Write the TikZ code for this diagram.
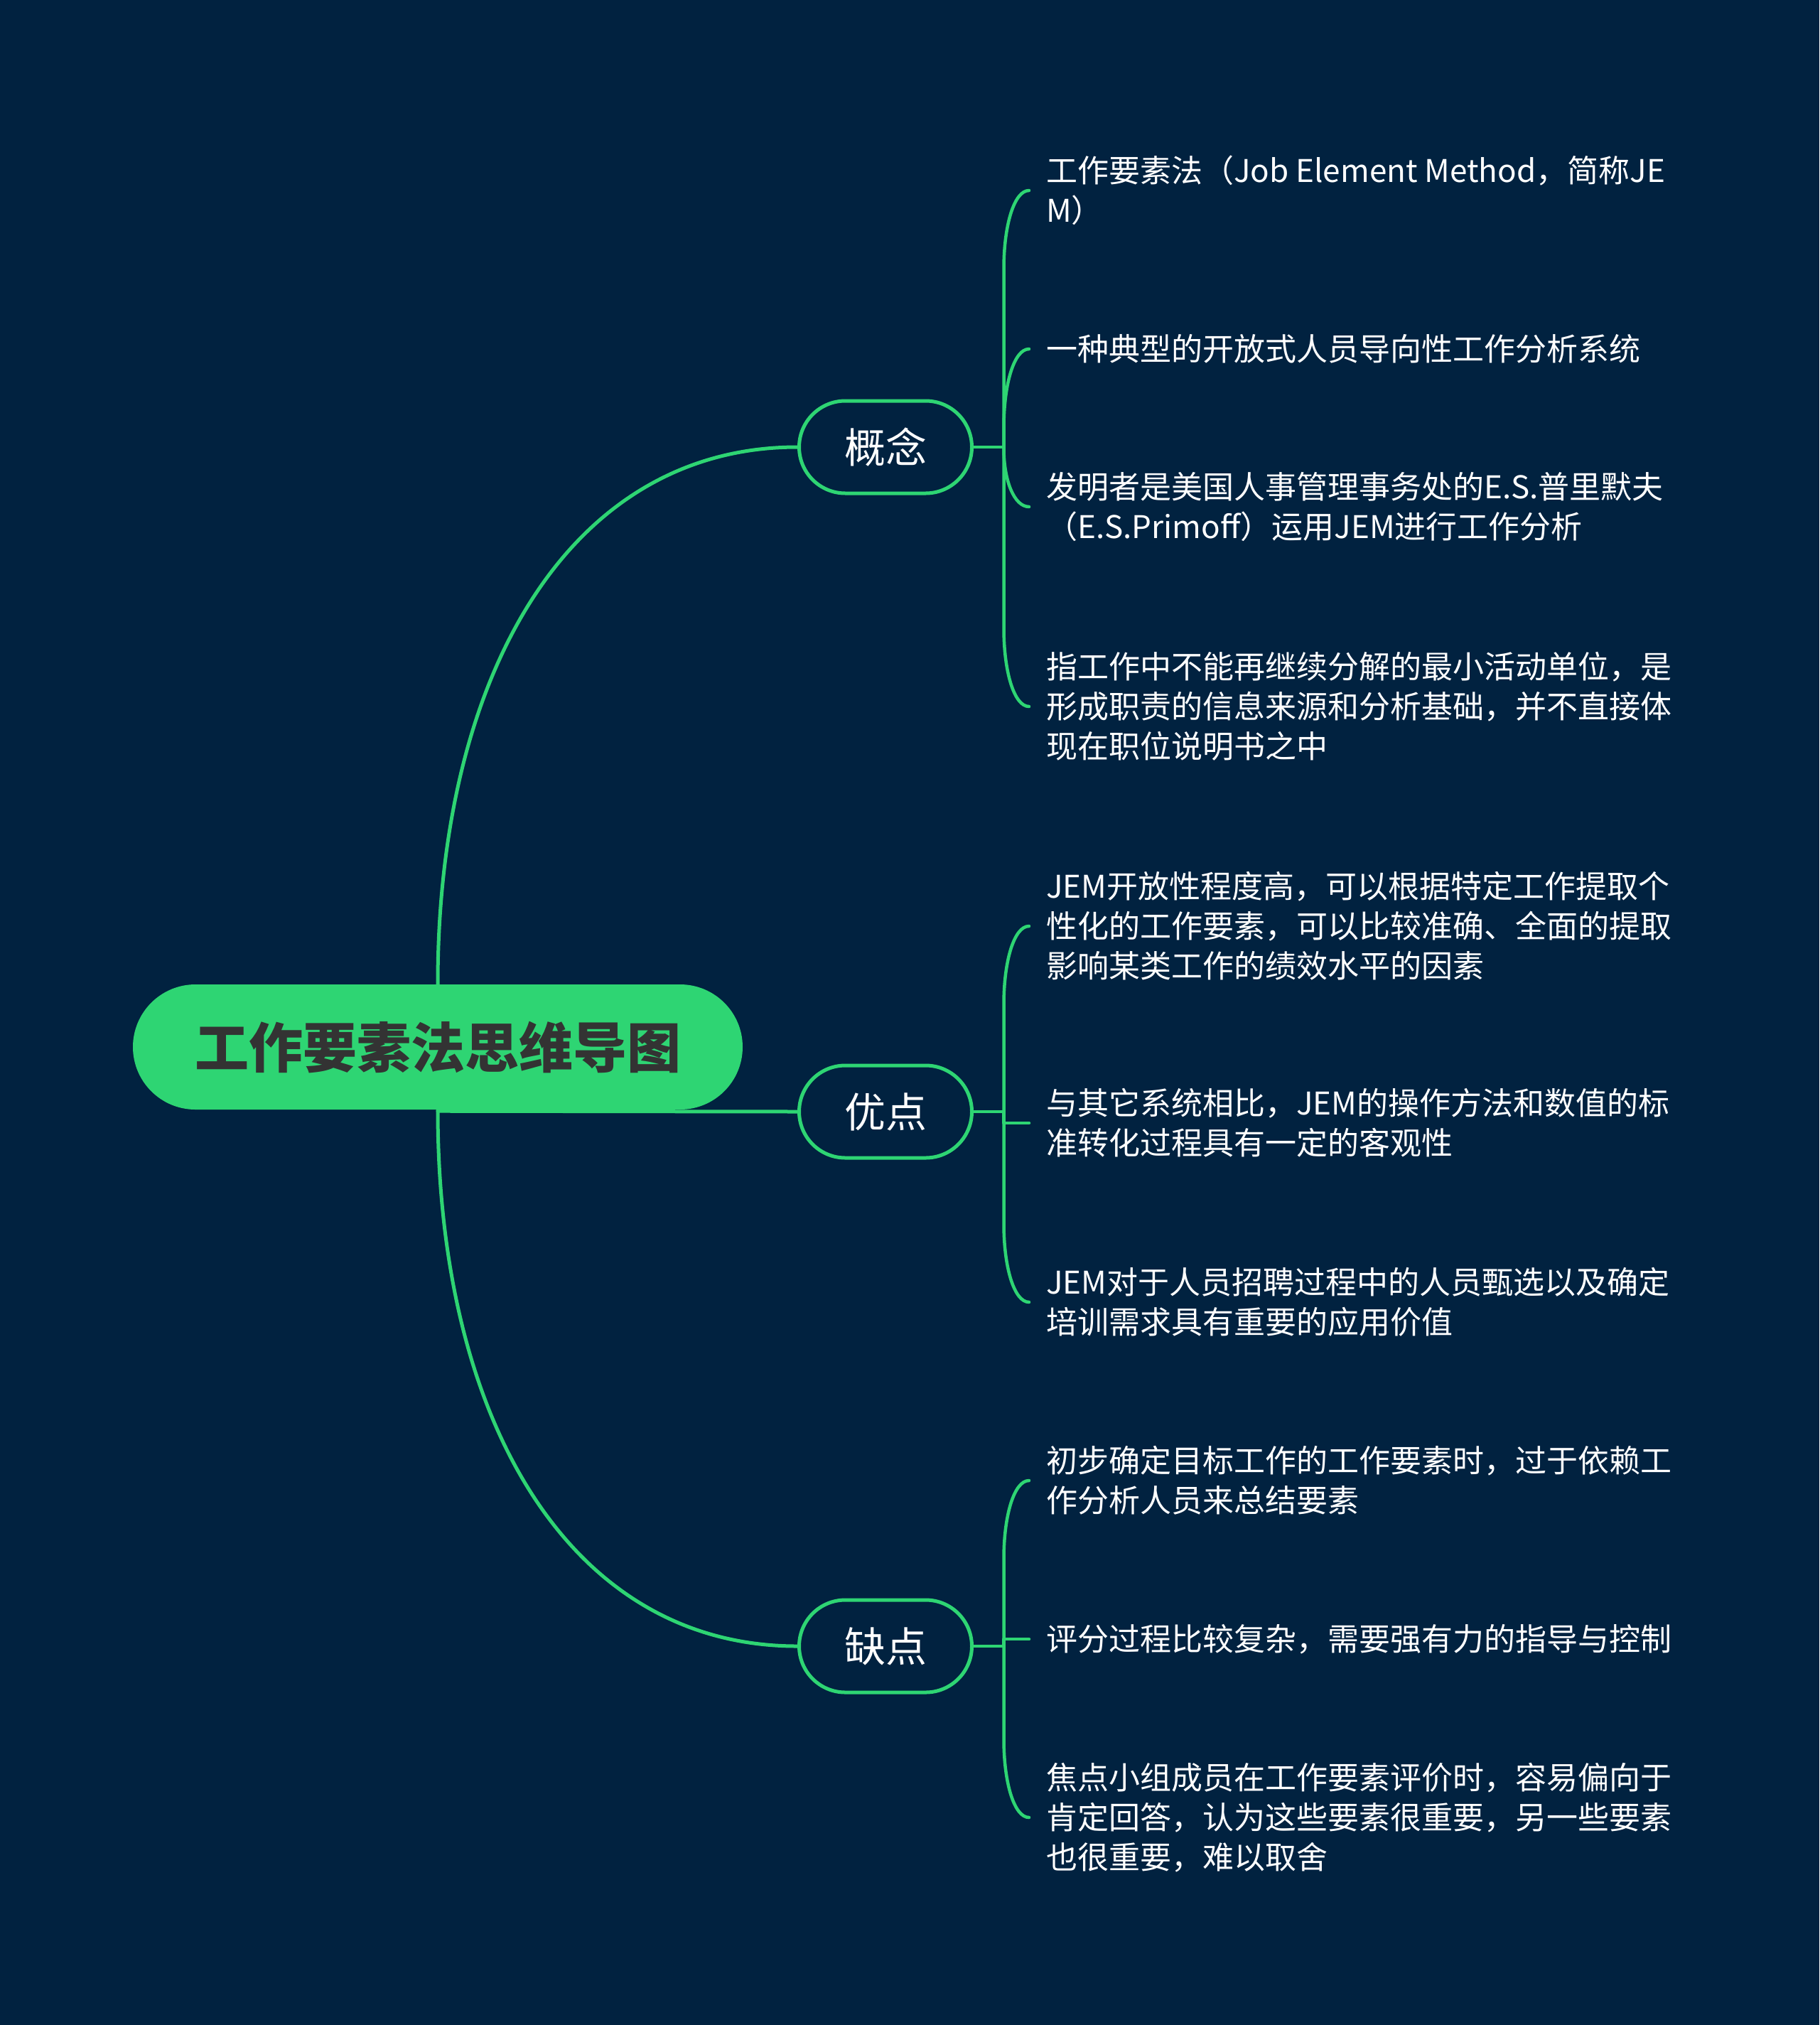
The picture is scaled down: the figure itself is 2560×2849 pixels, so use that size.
\documentclass[tikz,border=0pt]{standalone}
\usepackage{fontspec}
\setmainfont{Noto Sans CJK SC}
\usetikzlibrary{calc}
\definecolor{bgc}{RGB}{1,34,64}
\definecolor{lgreen}{RGB}{46,213,115}
\definecolor{rootgray}{RGB}{51,51,51}
\pgfdeclarelayer{bglayer}
\pgfdeclarelayer{edgelayer}
\pgfsetlayers{bglayer,edgelayer,main}
\tikzset{
  leaf/.style={anchor=west, align=left, inner sep=0pt, text=white, font=\fontsize{44}{56}\selectfont},
  branch/.style={draw=lgreen, fill=bgc, line width=5pt, rounded corners=65pt, minimum width=243pt, minimum height=130pt, inner sep=0pt, text=white, font=\fontsize{58}{62}\selectfont},
  rootnode/.style={fill=lgreen, rounded corners=88pt, minimum width=858pt, minimum height=176pt, inner sep=0pt, text=rootgray, font=\fontsize{76}{80}\selectfont\bfseries},
  edge/.style={draw=lgreen, line width=5pt, line cap=round, line join=round},
  brace/.style={draw=lgreen, line width=4.5pt, line cap=round, line join=round}
}
\begin{document}
\begin{tikzpicture}[x=1pt,y=-1pt]
\useasboundingbox (0,0) rectangle (2560,2849);
\begin{pgfonlayer}{bglayer}
\fill[bgc] (0,0) rectangle (2560,2849);
\end{pgfonlayer}

% nodes
\node[rootnode] (root) at (616,1473) {工作要素法思维导图};
\node[branch] (k1) at (1246,629) {概念};
\node[branch] (k2) at (1246,1564) {优点};
\node[branch] (k3) at (1246,2316) {缺点};

\node[leaf] (a1) at (1472,268) {工作要素法（Job Element Method，简称JE\\M）};
\node[leaf] (a2) at (1472,491) {一种典型的开放式人员导向性工作分析系统};
\node[leaf] (a3) at (1472,713) {发明者是美国人事管理事务处的E.S.普里默夫\\（E.S.Primoff）运用JEM进行工作分析};
\node[leaf] (a4) at (1472,994) {指工作中不能再继续分解的最小活动单位，是\\形成职责的信息来源和分析基础，并不直接体\\现在职位说明书之中};

\node[leaf] (b1) at (1472,1303) {JEM开放性程度高，可以根据特定工作提取个\\性化的工作要素，可以比较准确、全面的提取\\影响某类工作的绩效水平的因素};
\node[leaf] (b2) at (1472,1580) {与其它系统相比，JEM的操作方法和数值的标\\准转化过程具有一定的客观性};
\node[leaf] (b3) at (1472,1832) {JEM对于人员招聘过程中的人员甄选以及确定\\培训需求具有重要的应用价值};

\node[leaf] (c1) at (1472,2083) {初步确定目标工作的工作要素时，过于依赖工\\作分析人员来总结要素};
\node[leaf] (c2) at (1472,2306) {评分过程比较复杂，需要强有力的指导与控制};
\node[leaf] (c3) at (1472,2557) {焦点小组成员在工作要素评价时，容易偏向于\\肯定回答，认为这些要素很重要，另一些要素\\也很重要，难以取舍};

\coordinate (J1) at ($(k1.east)+(42.5,0)$);
\coordinate (J2) at ($(k2.east)+(42.5,0)$);
\coordinate (J3) at ($(k3.east)+(42.5,0)$);

\begin{pgfonlayer}{edgelayer}
% root to branches
\draw[edge] (root.north) .. controls ($(root.north)+(0,-435)$) and ($(k1.west)+(-322,0)$) .. (k1.west);
\draw[edge] ($(root.south)+(0,2)$) -- (k2.west);
\draw[edge] (root.south) .. controls ($(root.south)+(0,435)$) and ($(k3.west)+(-322,0)$) .. (k3.west);

% branch stubs
\draw[brace] (k1.east) -- (J1);
\draw[brace] (k2.east) -- (J2);
\draw[brace] (k3.east) -- (J3);

% group 1 (concept)
\draw[brace] (J1) -- ($(J1|-a1.west)+(0,110)$) .. controls ($(J1|-a1.west)+(0,49)$) and ($(a1.west)+(-45,0)$) .. ($(a1.west)+(-24,0)$);
\draw[brace] (J1) -- ($(J1|-a2.west)+(0,110)$) .. controls ($(J1|-a2.west)+(0,49)$) and ($(a2.west)+(-45,0)$) .. ($(a2.west)+(-24,0)$);
\draw[brace] (J1) -- ($(J1|-a3.west)+(0,-82)$) .. controls ($(J1|-a3.west)+(0,-37)$) and ($(a3.west)+(-45,0)$) .. ($(a3.west)+(-24,0)$);
\draw[brace] (J1) -- ($(J1|-a4.west)+(0,-110)$) .. controls ($(J1|-a4.west)+(0,-49)$) and ($(a4.west)+(-45,0)$) .. ($(a4.west)+(-24,0)$);

% group 2 (advantages)
\draw[brace] (J2) -- ($(J2|-b1.west)+(0,110)$) .. controls ($(J2|-b1.west)+(0,49)$) and ($(b1.west)+(-45,0)$) .. ($(b1.west)+(-24,0)$);
\draw[brace] (J2) -- (J2|-b2.west) -- ($(b2.west)+(-24,0)$);
\draw[brace] (J2) -- ($(J2|-b3.west)+(0,-110)$) .. controls ($(J2|-b3.west)+(0,-49)$) and ($(b3.west)+(-45,0)$) .. ($(b3.west)+(-24,0)$);

% group 3 (disadvantages)
\draw[brace] (J3) -- ($(J3|-c1.west)+(0,110)$) .. controls ($(J3|-c1.west)+(0,49)$) and ($(c1.west)+(-45,0)$) .. ($(c1.west)+(-24,0)$);
\draw[brace] (J3) -- (J3|-c2.west) -- ($(c2.west)+(-24,0)$);
\draw[brace] (J3) -- ($(J3|-c3.west)+(0,-110)$) .. controls ($(J3|-c3.west)+(0,-49)$) and ($(c3.west)+(-45,0)$) .. ($(c3.west)+(-24,0)$);
\end{pgfonlayer}
\end{tikzpicture}
\end{document}
